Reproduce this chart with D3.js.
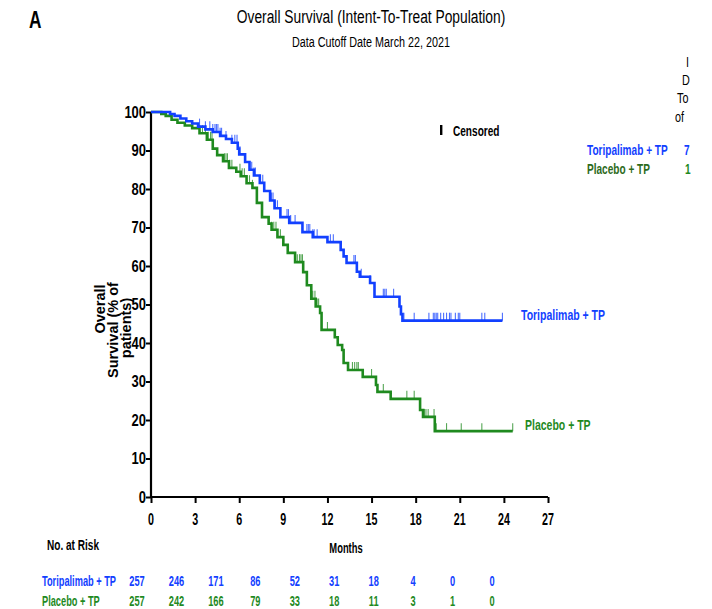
<!DOCTYPE html>
<html><head><meta charset="utf-8">
<script src="https://cdn.jsdelivr.net/npm/d3@7"></script>
<style>
html,body{margin:0;padding:0;background:#fff;}
svg{display:block;}
text{font-family:"Liberation Sans",Arial,sans-serif;}
</style></head>
<body>
<svg id="chart" width="712" height="609"></svg>
<script>
// ---- data ----
const seriesNames = ["Toripalimab + TP", "Placebo + TP"];
const xTicks = [0,3,6,9,12,15,18,21,24,27];
const yTicks = [0,10,20,30,40,50,60,70,80,90,100];
const atRiskTori = [257,246,171,86,52,31,18,4,0,0];
const atRiskPlac = [257,242,166,79,33,18,11,3,1,0];

// step curves: [time (months), survival % after the step]
const toriSteps = [[0,100],[1.3,99.5],[1.6,99],[2.0,98.3],[2.4,97.6],[2.8,97],[3.2,96.2],[3.7,95.5],[4.2,94.8],[4.7,93.8],[5.1,93],[5.5,92],[5.9,90.5],[6.0,89],[6.4,87],[6.7,85],[7.0,83.5],[7.4,81.6],[7.7,79.5],[8.1,77],[8.4,75],[8.8,72.7],[9.4,71.2],[10.3,68.8],[11.0,67.5],[12.0,66.2],[12.9,64.2],[13.1,62.5],[13.3,60.8],[14.0,58.5],[14.2,57.2],[14.9,55.6],[15.2,52],[16.9,49.5],[17.0,47.5],[17.1,45.8]];
const toriEnd = 23.9;
const placSteps = [[0,100],[0.7,99.5],[1.0,99],[1.4,98],[1.8,97.2],[2.3,96.5],[2.8,95.8],[3.3,94.5],[3.8,92.8],[4.2,90.5],[4.5,88.8],[4.9,87.2],[5.3,85.5],[5.8,84.5],[6.1,83.3],[6.5,81.5],[6.9,80.3],[7.2,76.4],[7.55,72.7],[8.0,71],[8.2,69.4],[8.6,67.5],[9.0,65.5],[9.3,63.4],[9.8,61],[10.35,58.4],[10.6,55],[10.9,51.5],[11.2,49.5],[11.5,47.8],[11.6,43.4],[12.5,41.5],[12.7,39.5],[13.0,38.2],[13.1,34.8],[13.4,33],[14.4,31.2],[15.3,29.1],[15.4,27.3],[16.3,25.5],[18.3,22.6],[18.5,20.8],[19.3,17.1]];
const placEnd = 24.6;

const toriCensor = [3.3,3.7,4.0,4.2,4.35,4.45,4.55,4.7,4.8,5.1,5.5,5.7,5.85,6.05,6.7,6.85,7.0,7.1,7.4,7.6,8.2,8.3,8.45,8.6,8.8,9.25,9.35,9.5,9.8,10.6,10.7,10.8,11.0,11.1,11.3,12.2,12.4,13.8,13.9,14.3,14.9,15.8,15.9,16.0,16.5,17.2,17.9,18.9,19.2,19.3,19.4,19.5,19.7,19.9,20.1,20.3,20.4,20.7,20.9,21.0,22.5,22.7,23.9];
const placCensor = [3.3,3.5,3.7,3.9,4.05,4.15,5.0,5.1,5.2,5.35,5.5,6.05,6.2,6.35,6.5,6.7,6.9,8.2,8.35,8.5,8.6,8.8,9.0,9.8,9.95,10.1,10.2,10.3,11.0,11.15,11.3,11.4,12.0,13.7,13.85,14.0,14.1,15.0,15.8,17.4,17.9,18.6,18.7,18.85,19.25,19.4,20.1,21.1,22.5,24.6];

// ---- drawing ----
const blue = "#1240ff", green = "#1f8a1f";
const svg = d3.select("#chart");
const x = d3.scaleLinear().domain([0,27]).range([151,548]);
const y = d3.scaleLinear().domain([0,100]).range([497,112]);

function label(parent, tx, ty, str, o){
  o = o || {};
  const g = parent.append("g").attr("transform",`translate(${tx},${ty}) scale(${o.sx||0.72},1)`);
  return g.append("text").attr("x",0).attr("y",0)
    .attr("font-size",o.size||14).attr("font-weight",o.weight||"bold")
    .attr("fill",o.fill||"#000").attr("text-anchor",o.anchor||"start").text(str);
}

label(svg,29,28,"A",{size:24,sx:0.72});
label(svg,371,23,"Overall Survival (Intent-To-Treat Population)",{size:19,weight:"normal",sx:0.726,anchor:"middle"});
label(svg,371,47,"Data Cutoff Date March 22, 2021",{size:15,weight:"normal",sx:0.72,anchor:"middle"});

// axes (lines & ticks from d3 axes, labels drawn condensed)
const gy = svg.append("g").attr("transform","translate(151,0)")
  .call(d3.axisLeft(y).tickValues(yTicks).tickSize(5).tickSizeOuter(0).tickFormat(""));
const gx = svg.append("g").attr("transform","translate(0,497)")
  .call(d3.axisBottom(x).tickValues(xTicks).tickSize(6).tickSizeOuter(0).tickFormat(""));
[gx,gy].forEach(g=>{
  g.select(".domain").attr("stroke","#000").attr("stroke-width",2.2);
  g.selectAll(".tick line").attr("stroke","#000").attr("stroke-width",2);
});
gx.select(".domain").attr("d","M150,0H548");
gy.select(".domain").attr("d","M0,112V498");
yTicks.forEach(v=>label(svg,146,y(v)+5.8,String(v),{size:16,sx:0.81,anchor:"end"}));
xTicks.forEach(v=>label(svg,x(v),525,String(v),{size:16,sx:0.67,anchor:"middle"}));

// y title
[["Overall",105,309],["Survival (% of",118,330],["patients)",131,328]].forEach(([t,bx,cy])=>{
  svg.append("text").attr("transform",`translate(${bx},${cy}) rotate(-90)`)
    .attr("text-anchor","middle").attr("font-size",14.5).attr("font-weight","bold").text(t);
});
label(svg,346,553,"Months",{size:14,sx:0.67,anchor:"middle"});

// curves
function stepPath(steps, end){
  const pts=[];
  steps.forEach((s,i)=>{
    if(i>0) pts.push([s[0], steps[i-1][1]]);
    pts.push(s);
  });
  pts.push([end, steps[steps.length-1][1]]);
  return d3.line().x(d=>x(d[0])).y(d=>y(d[1]))(pts);
}
function survAt(steps,t){let v=100;steps.forEach(s=>{if(s[0]<=t)v=s[1];});return v;}
function drawCurve(steps,end,cens,col){
  svg.append("path").attr("d",stepPath(steps,end)).attr("fill","none").attr("stroke",col).attr("stroke-width",2.6);
  svg.append("g").selectAll("line").data(cens).join("line")
    .attr("x1",d=>x(d)).attr("x2",d=>x(d))
    .attr("y1",d=>y(survAt(steps,d))).attr("y2",d=>y(survAt(steps,d))-8)
    .attr("stroke",col).attr("stroke-width",1.1).attr("opacity",0.75);
}
drawCurve(placSteps,placEnd,placCensor,green);
drawCurve(toriSteps,toriEnd,toriCensor,blue);

label(svg,521,320,seriesNames[0],{fill:blue,sx:0.75});
label(svg,525,430,seriesNames[1],{fill:green,sx:0.75});

// censored legend
svg.append("rect").attr("x",440).attr("y",125).attr("width",2.4).attr("height",10).attr("fill","#000");
label(svg,453,136,"Censored",{sx:0.72});

// right legend (cropped at the right edge in the reference)
label(svg,587,155,seriesNames[0],{fill:blue,sx:0.72});
label(svg,587,174,seriesNames[1],{fill:"#2d6b1c",sx:0.72});
label(svg,684,155,"7",{fill:blue,sx:0.72});
label(svg,685,174,"1",{fill:green,sx:0.72});
[["I",686,67],["D",682,85],["To",677,103],["of",675,122]].forEach(([t,tx,ty])=>{
  label(svg,tx,ty,t,{size:15,weight:"normal",sx:0.72});
});
svg.append("rect").attr("x",691).attr("y",0).attr("width",21).attr("height",609).attr("fill","#fff");

// at risk table
label(svg,47,550,"No. at Risk",{sx:0.72});
const xr = d3.scalePoint().domain(d3.range(10)).range([137,492]);
[[seriesNames[0],atRiskTori,blue,586],[seriesNames[1],atRiskPlac,green,606]].forEach(([nm,vals,col,yy])=>{
  label(svg,42,yy,nm,{fill:col,sx:0.66});
  vals.forEach((v,i)=>label(svg,xr(i),yy,String(v),{fill:col,sx:0.66,anchor:"middle"}));
});
</script>
</body></html>
